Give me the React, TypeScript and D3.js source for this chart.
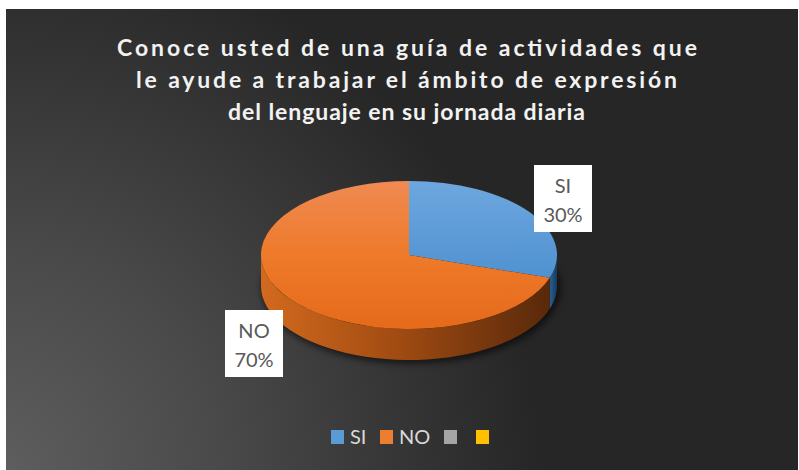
import React from 'react';
import * as d3 from 'd3';

// chart data
const categories = ['SI', 'NO', '', ''];
const values = [30, 70, 0, 0];
const colors = ['#5B9BD5', '#ED7D31', '#A5A5A5', '#FFC000'];
const titleLines = [
  'Conoce usted de una guía de actividades que',
  'le ayude a trabajar el ámbito de expresión',
  'del lenguaje en su jornada diaria',
];

const W = 799;
const H = 470;
const cx = 409;
const cy = 255;
const rx = 148;
const ry = 74;
const depth = 31;
const font = "Lato, 'Open Sans', sans-serif";

// point on the ellipse, angle measured clockwise from 12 o'clock (d3.pie convention)
const pt = (a: number, dy = 0): [number, number] => [cx + rx * Math.sin(a), cy - ry * Math.cos(a) + dy];

const sidePath = (a0: number, a1: number) => {
  const s = Math.max(a0, Math.PI / 2);
  const e = Math.min(a1, (3 * Math.PI) / 2);
  if (e <= s) return null;
  const steps = d3.range(0, 41).map((i) => s + ((e - s) * i) / 40);
  const top = steps.map((a) => pt(a));
  const bottom = steps.slice().reverse().map((a) => pt(a, depth));
  return d3.line()([...top, ...bottom]) + 'Z';
};

const App = () => {
  const pie = d3.pie<number>().sort(null).value((d) => d);
  const arcs = pie(values);
  const arc = d3.arc<d3.PieArcDatum<number>>().innerRadius(0).outerRadius(rx);
  const total = d3.sum(values);

  const legendX = [331, 380, 444, 476];

  // label positions (box centres) for the two visible slices
  const labelPos: Record<string, [number, number]> = { SI: [563, 198], NO: [254, 343] };

  return (
    <svg width={W} height={H} style={{ position: 'absolute', left: 0, top: 0 }}>
      <defs>
        <radialGradient id="bg" cx="0" cy={H} r="540" gradientUnits="userSpaceOnUse">
          <stop offset="0" stopColor="#5e5e5e" />
          <stop offset="0.4" stopColor="#4a4a4a" />
          <stop offset="1" stopColor="#262626" />
        </radialGradient>
        <linearGradient id="sideNO" x1={cx - rx} x2={cx + rx} y1="0" y2="0" gradientUnits="userSpaceOnUse">
          <stop offset="0" stopColor="#d26a1e" />
          <stop offset="0.45" stopColor="#a24c12" />
          <stop offset="1" stopColor="#55270a" />
        </linearGradient>
        <linearGradient id="sideSI" x1="0" x2="1" y1="0" y2="0">
          <stop offset="0" stopColor="#2a5f92" />
          <stop offset="1" stopColor="#183a5c" />
        </linearGradient>
        <linearGradient id="topSI" x1="0" x2="0" y1={-rx} y2={rx} gradientUnits="userSpaceOnUse">
          <stop offset="0" stopColor="#6ea7df" />
          <stop offset="1" stopColor="#3f86c9" />
        </linearGradient>
        <linearGradient id="topNO" x1="0" x2="0" y1={-rx} y2={rx} gradientUnits="userSpaceOnUse">
          <stop offset="0" stopColor="#ef8a52" />
          <stop offset="0.5" stopColor="#ee7a2a" />
          <stop offset="1" stopColor="#e56a1a" />
        </linearGradient>
        <filter id="shadow" x="-20%" y="-40%" width="140%" height="180%">
          <feGaussianBlur stdDeviation="3" />
        </filter>
      </defs>

      <rect x={0} y={0} width={W} height={H} fill="#ffffff" />
      <rect x={6} y={9} width={792} height={H - 9} fill="url(#bg)" />

      {/* title */}
      {titleLines.map((t, i) => (
        <text
          key={i}
          x={[117, 136, 228][i]}
          y={[56, 88, 120][i]}
          textLength={[580, 541, 357][i]}
          lengthAdjust="spacing"
          fill="#f2f2f2"
          fontFamily={font}
          fontWeight="bold"
          fontSize={23}
        >
          {t}
        </text>
      ))}

      {/* shadow under the pie */}
      <ellipse cx={cx + 2} cy={cy + depth + 2} rx={rx + 2} ry={ry + 2} fill="#000" opacity={0.55} filter="url(#shadow)" />

      {/* side walls */}
      {arcs.map((a, i) => {
        const p = sidePath(a.startAngle, a.endAngle);
        if (!p) return null;
        return <path key={'s' + i} d={p} fill={i === 0 ? 'url(#sideSI)' : 'url(#sideNO)'} />;
      })}

      {/* top faces: d3.arc squashed into an ellipse */}
      <g transform={`translate(${cx},${cy}) scale(1,${ry / rx})`}>
        {arcs.map((a, i) =>
          a.endAngle > a.startAngle ? (
            <path
              key={'t' + i}
              d={arc(a) || ''}
              fill={i === 0 ? 'url(#topSI)' : i === 1 ? 'url(#topNO)' : colors[i]}
            />
          ) : null
        )}
      </g>

      {/* data labels */}
      {arcs.map((a, i) => {
        const name = categories[i];
        if (!labelPos[name]) return null;
        const [lx, ly] = labelPos[name];
        const pct = d3.format('.0%')(a.value / total);
        return (
          <g key={'l' + i}>
            <rect x={lx - 29} y={ly - 33} width={58} height={67} fill="#ffffff" />
            <text x={lx} y={ly - 5} textAnchor="middle" fill="#595959" fontFamily={font} fontSize={20}>
              {name}
            </text>
            <text x={lx} y={ly + 24} textAnchor="middle" fill="#595959" fontFamily={font} fontSize={20}>
              {pct}
            </text>
          </g>
        );
      })}

      {/* legend */}
      {categories.map((c, i) => (
        <g key={'lg' + i}>
          <rect x={legendX[i]} y={430} width={13} height={14} fill={colors[i]} />
          {c && (
            <text x={legendX[i] + 19} y={444} fill="#d9d9d9" fontFamily={font} fontSize={20}>
              {c}
            </text>
          )}
        </g>
      ))}
    </svg>
  );
};

export default App;
